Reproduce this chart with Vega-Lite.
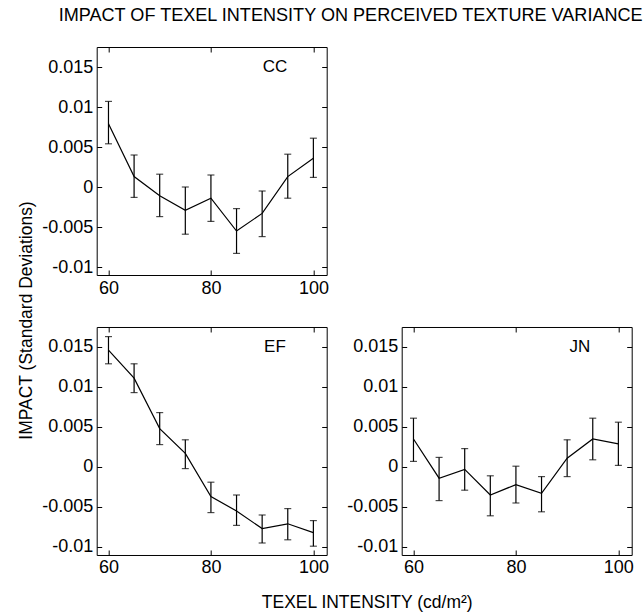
{
  "$schema": "https://vega.github.io/schema/vega-lite/v6.json",
  "background": "white",
  "padding": {"left": 16.7, "top": 6, "right": 0, "bottom": 0},
  "title": {"text": "IMPACT OF TEXEL INTENSITY ON PERCEIVED TEXTURE VARIANCE", "anchor": "start", "frame": "group", "fontSize": 18.1, "fontWeight": "normal", "font": "Liberation Sans", "color": "black", "dx": -38, "offset": 7, "baseline": "alphabetic"},
  "datasets": {
    "d": [
      {"s": "CC", "x": 60, "v": 0.0079, "lo": 0.0054, "hi": 0.0107},
      {"s": "CC", "x": 65, "v": 0.0013, "lo": -0.0013, "hi": 0.0040},
      {"s": "CC", "x": 70, "v": -0.0011, "lo": -0.0037, "hi": 0.0016},
      {"s": "CC", "x": 75, "v": -0.0029, "lo": -0.0059, "hi": 0.0000},
      {"s": "CC", "x": 80, "v": -0.0014, "lo": -0.0043, "hi": 0.0015},
      {"s": "CC", "x": 85, "v": -0.0055, "lo": -0.0083, "hi": -0.0027},
      {"s": "CC", "x": 90, "v": -0.0033, "lo": -0.0062, "hi": -0.0005},
      {"s": "CC", "x": 95, "v": 0.0013, "lo": -0.0014, "hi": 0.0041},
      {"s": "CC", "x": 100, "v": 0.0036, "lo": 0.0012, "hi": 0.0061},
      {"s": "EF", "x": 60, "v": 0.0146, "lo": 0.0129, "hi": 0.0163},
      {"s": "EF", "x": 65, "v": 0.0111, "lo": 0.0093, "hi": 0.0129},
      {"s": "EF", "x": 70, "v": 0.0048, "lo": 0.0028, "hi": 0.0068},
      {"s": "EF", "x": 75, "v": 0.0017, "lo": -0.0002, "hi": 0.0034},
      {"s": "EF", "x": 80, "v": -0.0037, "lo": -0.0057, "hi": -0.0019},
      {"s": "EF", "x": 85, "v": -0.0055, "lo": -0.0073, "hi": -0.0035},
      {"s": "EF", "x": 90, "v": -0.0077, "lo": -0.0095, "hi": -0.0060},
      {"s": "EF", "x": 95, "v": -0.0071, "lo": -0.0091, "hi": -0.0052},
      {"s": "EF", "x": 100, "v": -0.0082, "lo": -0.0099, "hi": -0.0067},
      {"s": "JN", "x": 60, "v": 0.0035, "lo": 0.0007, "hi": 0.0061},
      {"s": "JN", "x": 65, "v": -0.0014, "lo": -0.0042, "hi": 0.0012},
      {"s": "JN", "x": 70, "v": -0.0003, "lo": -0.0029, "hi": 0.0023},
      {"s": "JN", "x": 75, "v": -0.0035, "lo": -0.0061, "hi": -0.0011},
      {"s": "JN", "x": 80, "v": -0.0022, "lo": -0.0045, "hi": 0.0001},
      {"s": "JN", "x": 85, "v": -0.0033, "lo": -0.0056, "hi": -0.0012},
      {"s": "JN", "x": 90, "v": 0.0011, "lo": -0.0012, "hi": 0.0034},
      {"s": "JN", "x": 95, "v": 0.0035, "lo": 0.0009, "hi": 0.0061},
      {"s": "JN", "x": 100, "v": 0.0029, "lo": 0.0002, "hi": 0.0056}
    ]
  },
  "bounds": "flush",
  "spacing": 52,
  "vconcat": [
    {
      "width": 230, "height": 228,
      "data": {"name": "d"},
      "transform": [{"filter": "datum.s == 'CC'"}],
      "layer": [
        {"mark": {"type": "errorbar", "ticks": {"size": 7, "color": "black"}, "color": "black", "thickness": 1.2},
         "encoding": {
           "x": {"field": "x", "type": "quantitative", "scale": {"domain": [57.7, 102.6], "nice": false, "zero": false}, "axis": {"orient": "bottom", "values": [60, 80, 100], "title": null}},
           "y": {"field": "lo", "type": "quantitative", "scale": {"domain": [-0.011, 0.0175], "nice": false, "zero": false}, "axis": {"orient": "left", "values": [-0.01, -0.005, 0, 0.005, 0.01, 0.015], "labelExpr": "toString(datum.value)", "title": null}},
           "y2": {"field": "hi"}}},
        {"mark": {"type": "line", "color": "black", "strokeWidth": 1.2},
         "encoding": {
           "x": {"field": "x", "type": "quantitative", "axis": {"orient": "top", "values": [60, 80, 100], "labels": false, "title": null}},
           "y": {"field": "v", "type": "quantitative", "axis": {"orient": "right", "values": [-0.01, -0.005, 0, 0.005, 0.01, 0.015], "labels": false, "title": null}}}},
        {"transform": [{"filter": "datum.x == 100"}],
         "mark": {"type": "text", "font": "Liberation Sans", "fontSize": 17, "color": "black", "align": "center", "baseline": "middle"},
         "encoding": {"x": {"datum": 92.5, "axis": null}, "y": {"datum": 0.015, "axis": null}, "text": {"field": "s"}}}
      ],
      "resolve": {"axis": {"x": "independent", "y": "independent"}}
    },
    {
      "bounds": "flush",
      "spacing": 75,
      "hconcat": [
        {
          "width": 230, "height": 228,
          "data": {"name": "d"},
          "transform": [{"filter": "datum.s == 'EF'"}],
          "layer": [
            {"mark": {"type": "errorbar", "ticks": {"size": 7, "color": "black"}, "color": "black", "thickness": 1.2},
             "encoding": {
               "x": {"field": "x", "type": "quantitative", "scale": {"domain": [57.7, 102.6], "nice": false, "zero": false}, "axis": {"orient": "bottom", "values": [60, 80, 100], "title": "TEXEL INTENSITY (cd/m²)", "titleX": 270, "titleY": 53, "titleAlign": "center", "titleBaseline": "alphabetic"}},
               "y": {"field": "lo", "type": "quantitative", "scale": {"domain": [-0.011, 0.0175], "nice": false, "zero": false}, "axis": {"orient": "left", "values": [-0.01, -0.005, 0, 0.005, 0.01, 0.015], "labelExpr": "toString(datum.value)", "title": "IMPACT (Standard Deviations)", "titleX": -65, "titleY": -7, "titleAlign": "center", "titleBaseline": "alphabetic", "titleAngle": -90}},
               "y2": {"field": "hi"}}},
            {"mark": {"type": "line", "color": "black", "strokeWidth": 1.2},
             "encoding": {
               "x": {"field": "x", "type": "quantitative", "axis": {"orient": "top", "values": [60, 80, 100], "labels": false, "title": null}},
               "y": {"field": "v", "type": "quantitative", "axis": {"orient": "right", "values": [-0.01, -0.005, 0, 0.005, 0.01, 0.015], "labels": false, "title": null}}}},
            {"transform": [{"filter": "datum.x == 100"}],
             "mark": {"type": "text", "font": "Liberation Sans", "fontSize": 17, "color": "black", "align": "center", "baseline": "middle"},
             "encoding": {"x": {"datum": 92.5, "axis": null}, "y": {"datum": 0.015, "axis": null}, "text": {"field": "s"}}}
          ],
          "resolve": {"axis": {"x": "independent", "y": "independent"}}
        },
        {
          "width": 230, "height": 228,
          "data": {"name": "d"},
          "transform": [{"filter": "datum.s == 'JN'"}],
          "layer": [
            {"mark": {"type": "errorbar", "ticks": {"size": 7, "color": "black"}, "color": "black", "thickness": 1.2},
             "encoding": {
               "x": {"field": "x", "type": "quantitative", "scale": {"domain": [57.7, 102.6], "nice": false, "zero": false}, "axis": {"orient": "bottom", "values": [60, 80, 100], "title": null}},
               "y": {"field": "lo", "type": "quantitative", "scale": {"domain": [-0.011, 0.0175], "nice": false, "zero": false}, "axis": {"orient": "left", "values": [-0.01, -0.005, 0, 0.005, 0.01, 0.015], "labelExpr": "toString(datum.value)", "title": null}},
               "y2": {"field": "hi"}}},
            {"mark": {"type": "line", "color": "black", "strokeWidth": 1.2},
             "encoding": {
               "x": {"field": "x", "type": "quantitative", "axis": {"orient": "top", "values": [60, 80, 100], "labels": false, "title": null}},
               "y": {"field": "v", "type": "quantitative", "axis": {"orient": "right", "values": [-0.01, -0.005, 0, 0.005, 0.01, 0.015], "labels": false, "title": null}}}},
            {"transform": [{"filter": "datum.x == 100"}],
             "mark": {"type": "text", "font": "Liberation Sans", "fontSize": 17, "color": "black", "align": "center", "baseline": "middle"},
             "encoding": {"x": {"datum": 92.5, "axis": null}, "y": {"datum": 0.015, "axis": null}, "text": {"field": "s"}}}
          ],
          "resolve": {"axis": {"x": "independent", "y": "independent"}}
        }
      ]
    }
  ],
  "config": {
    "view": {"stroke": "black", "strokeWidth": 1},
    "axis": {
      "domain": false, "grid": false,
      "tickSize": -5, "tickColor": "black", "tickWidth": 1,
      "labelPadding": 9, "labelFont": "Liberation Sans", "labelFontSize": 18, "labelColor": "black",
      "labelFlush": false, "labelOverlap": false, "labelBound": false,
      "titleFont": "Liberation Sans", "titleFontSize": 17.5, "titleFontWeight": "normal", "titleColor": "black"
    }
  }
}
